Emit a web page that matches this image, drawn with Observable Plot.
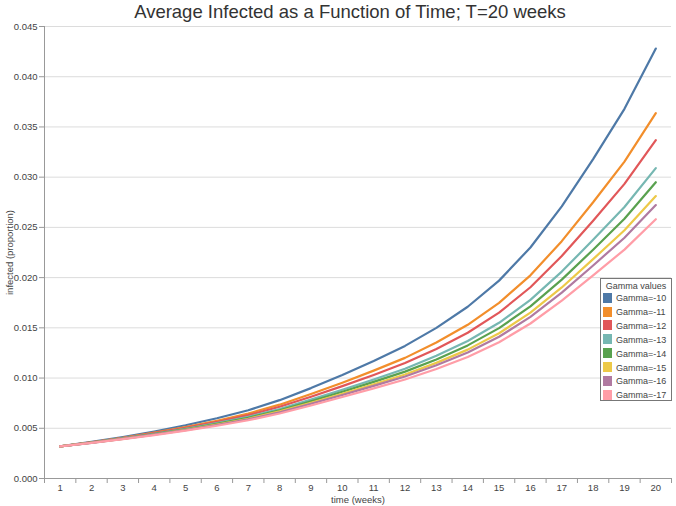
<!DOCTYPE html>
<html><head><meta charset="utf-8">
<script src="https://cdn.jsdelivr.net/npm/d3@7"></script>
<script src="https://cdn.jsdelivr.net/npm/@observablehq/plot@0.6"></script>
<style>
body{margin:0;background:#fff;font-family:"Liberation Sans",Arial,sans-serif;}
#wrap{position:relative;width:676px;height:506px;overflow:hidden;}
#title{position:absolute;left:12px;top:0;width:676px;text-align:center;font-size:18.5px;color:#333;line-height:24px;}
#legend{position:absolute;left:600px;top:278px;width:72px;height:123px;border:1px solid #777;background:#fff;box-sizing:border-box;font-size:9px;color:#444;}
#legend .lt{position:absolute;left:0;width:70px;text-align:center;top:1px;line-height:12px;}
#legend .row{position:absolute;left:2px;height:12px;line-height:12px;white-space:nowrap;}
#legend .sw{display:inline-block;width:9px;height:10px;vertical-align:middle;margin-right:4px;margin-top:-2px;}
</style></head>
<body>
<div id="wrap"><div id="chart"></div><div id="title">Average Infected as a Function of Time; T=20 weeks</div><div id="legend"></div></div>
<script>
const weeks = [1,2,3,4,5,6,7,8,9,10,11,12,13,14,15,16,17,18,19,20];
const gammaLabels = ["Gamma=-10","Gamma=-11","Gamma=-12","Gamma=-13","Gamma=-14","Gamma=-15","Gamma=-16","Gamma=-17"];
const colors = ["#4e79a7","#f28e2b","#e15759","#76b7b2","#59a14f","#edc948","#b07aa1","#ff9da7"];
const yTicks = [0,0.005,0.010,0.015,0.020,0.025,0.030,0.035,0.040,0.045];

const g10 = [0.0032,0.00364,0.00413,0.00468,0.0053,0.0060,0.0068,0.0078,0.0090,0.0103,0.0117,0.0132,0.0150,0.0171,0.0197,0.0230,0.0271,0.0318,0.0368,0.0428];
const g11 = [0.0032,0.00361,0.00406,0.00456,0.00512,0.00575,0.00646,0.00735,0.00841,0.00954,0.01074,0.01201,0.01354,0.01530,0.01748,0.02023,0.02363,0.02750,0.03155,0.03638];
const g12 = [0.0032,0.00359,0.00403,0.00451,0.00504,0.00563,0.00631,0.00714,0.00814,0.00920,0.01031,0.01149,0.01289,0.01451,0.01651,0.01904,0.02215,0.02567,0.02933,0.03368];
const g13 = [0.0032,0.00358,0.00399,0.00445,0.00495,0.00551,0.00613,0.00692,0.00785,0.00883,0.00986,0.01093,0.01221,0.01369,0.01550,0.01779,0.02060,0.02376,0.02703,0.03090];
const g14 = [0.0032,0.00357,0.00397,0.00441,0.00490,0.00544,0.00605,0.00680,0.00769,0.00863,0.00962,0.01064,0.01185,0.01325,0.01497,0.01714,0.01980,0.02278,0.02586,0.02949];
const g15 = [0.0032,0.00356,0.00395,0.00438,0.00485,0.00537,0.00595,0.00668,0.00754,0.00844,0.00938,0.01035,0.01151,0.01283,0.01446,0.01651,0.01902,0.02184,0.02472,0.02812];
const g16 = [0.0032,0.00355,0.00394,0.00436,0.00482,0.00533,0.00589,0.00660,0.00744,0.00831,0.00922,0.01016,0.01127,0.01255,0.01411,0.01609,0.01851,0.02121,0.02397,0.02722];
const g17 = [0.0032,0.00354,0.00392,0.00432,0.00476,0.00525,0.00580,0.00647,0.00727,0.00811,0.00897,0.00985,0.01090,0.01210,0.01357,0.01543,0.01770,0.02022,0.02279,0.02581];

const series = [g10,g11,g12,g13,g14,g15,g16,g17];
const data = series.flatMap((vals,i)=>vals.map((v,j)=>({week:weeks[j], value:v, gamma:gammaLabels[i]})));
const bounds = weeks.map(w=>w-0.5).concat([weeks[weeks.length-1]+0.5]);

const chart = Plot.plot({
  width:676, height:506, marginTop:26, marginBottom:28, marginLeft:44, marginRight:5,
  style:{fontFamily:"'Liberation Sans', Arial, sans-serif", fontSize:"9.5px", color:"#444", background:"transparent"},
  x:{domain:[0.5,20.5], axis:null},
  y:{domain:[0,0.045], axis:null},
  color:{domain:gammaLabels, range:colors},
  marks:[
    Plot.gridY(yTicks,{stroke:"#dcdcdc", strokeOpacity:1}),
    Plot.axisY(yTicks,{tickFormat:d3.format(".3f"), tickSize:5, tickPadding:2, stroke:"#999", fill:"#444", label:"infected (proportion)", labelAnchor:"center", labelArrow:"none", labelOffset:38}),
    Plot.axisX(weeks,{tickSize:0, tickPadding:6, fill:"#444", label:null}),
    Plot.axisX(bounds,{tickSize:5, tickFormat:()=>"", label:null, stroke:"#999"}),
    Plot.text(["time (weeks)"],{frameAnchor:"bottom", dy:21, fill:"#444", fontSize:9.5, lineAnchor:"middle"}),
    Plot.ruleY([0],{stroke:"#999"}),
    Plot.ruleX([0.5],{y1:0, y2:0.045, stroke:"#999"}),
    Plot.line(data,{x:"week", y:"value", stroke:"gamma", strokeWidth:2.2})
  ]
});
document.getElementById("chart").appendChild(chart);

const lg = document.getElementById("legend");
const t = document.createElement("div"); t.className="lt"; t.textContent="Gamma values"; lg.appendChild(t);
gammaLabels.forEach((g,i)=>{
  const r=document.createElement("div"); r.className="row"; r.style.top=(13+i*13.9)+"px";
  r.innerHTML='<span class="sw" style="background:'+colors[i]+'"></span>'+g;
  lg.appendChild(r);
});
</script>
</body></html>
